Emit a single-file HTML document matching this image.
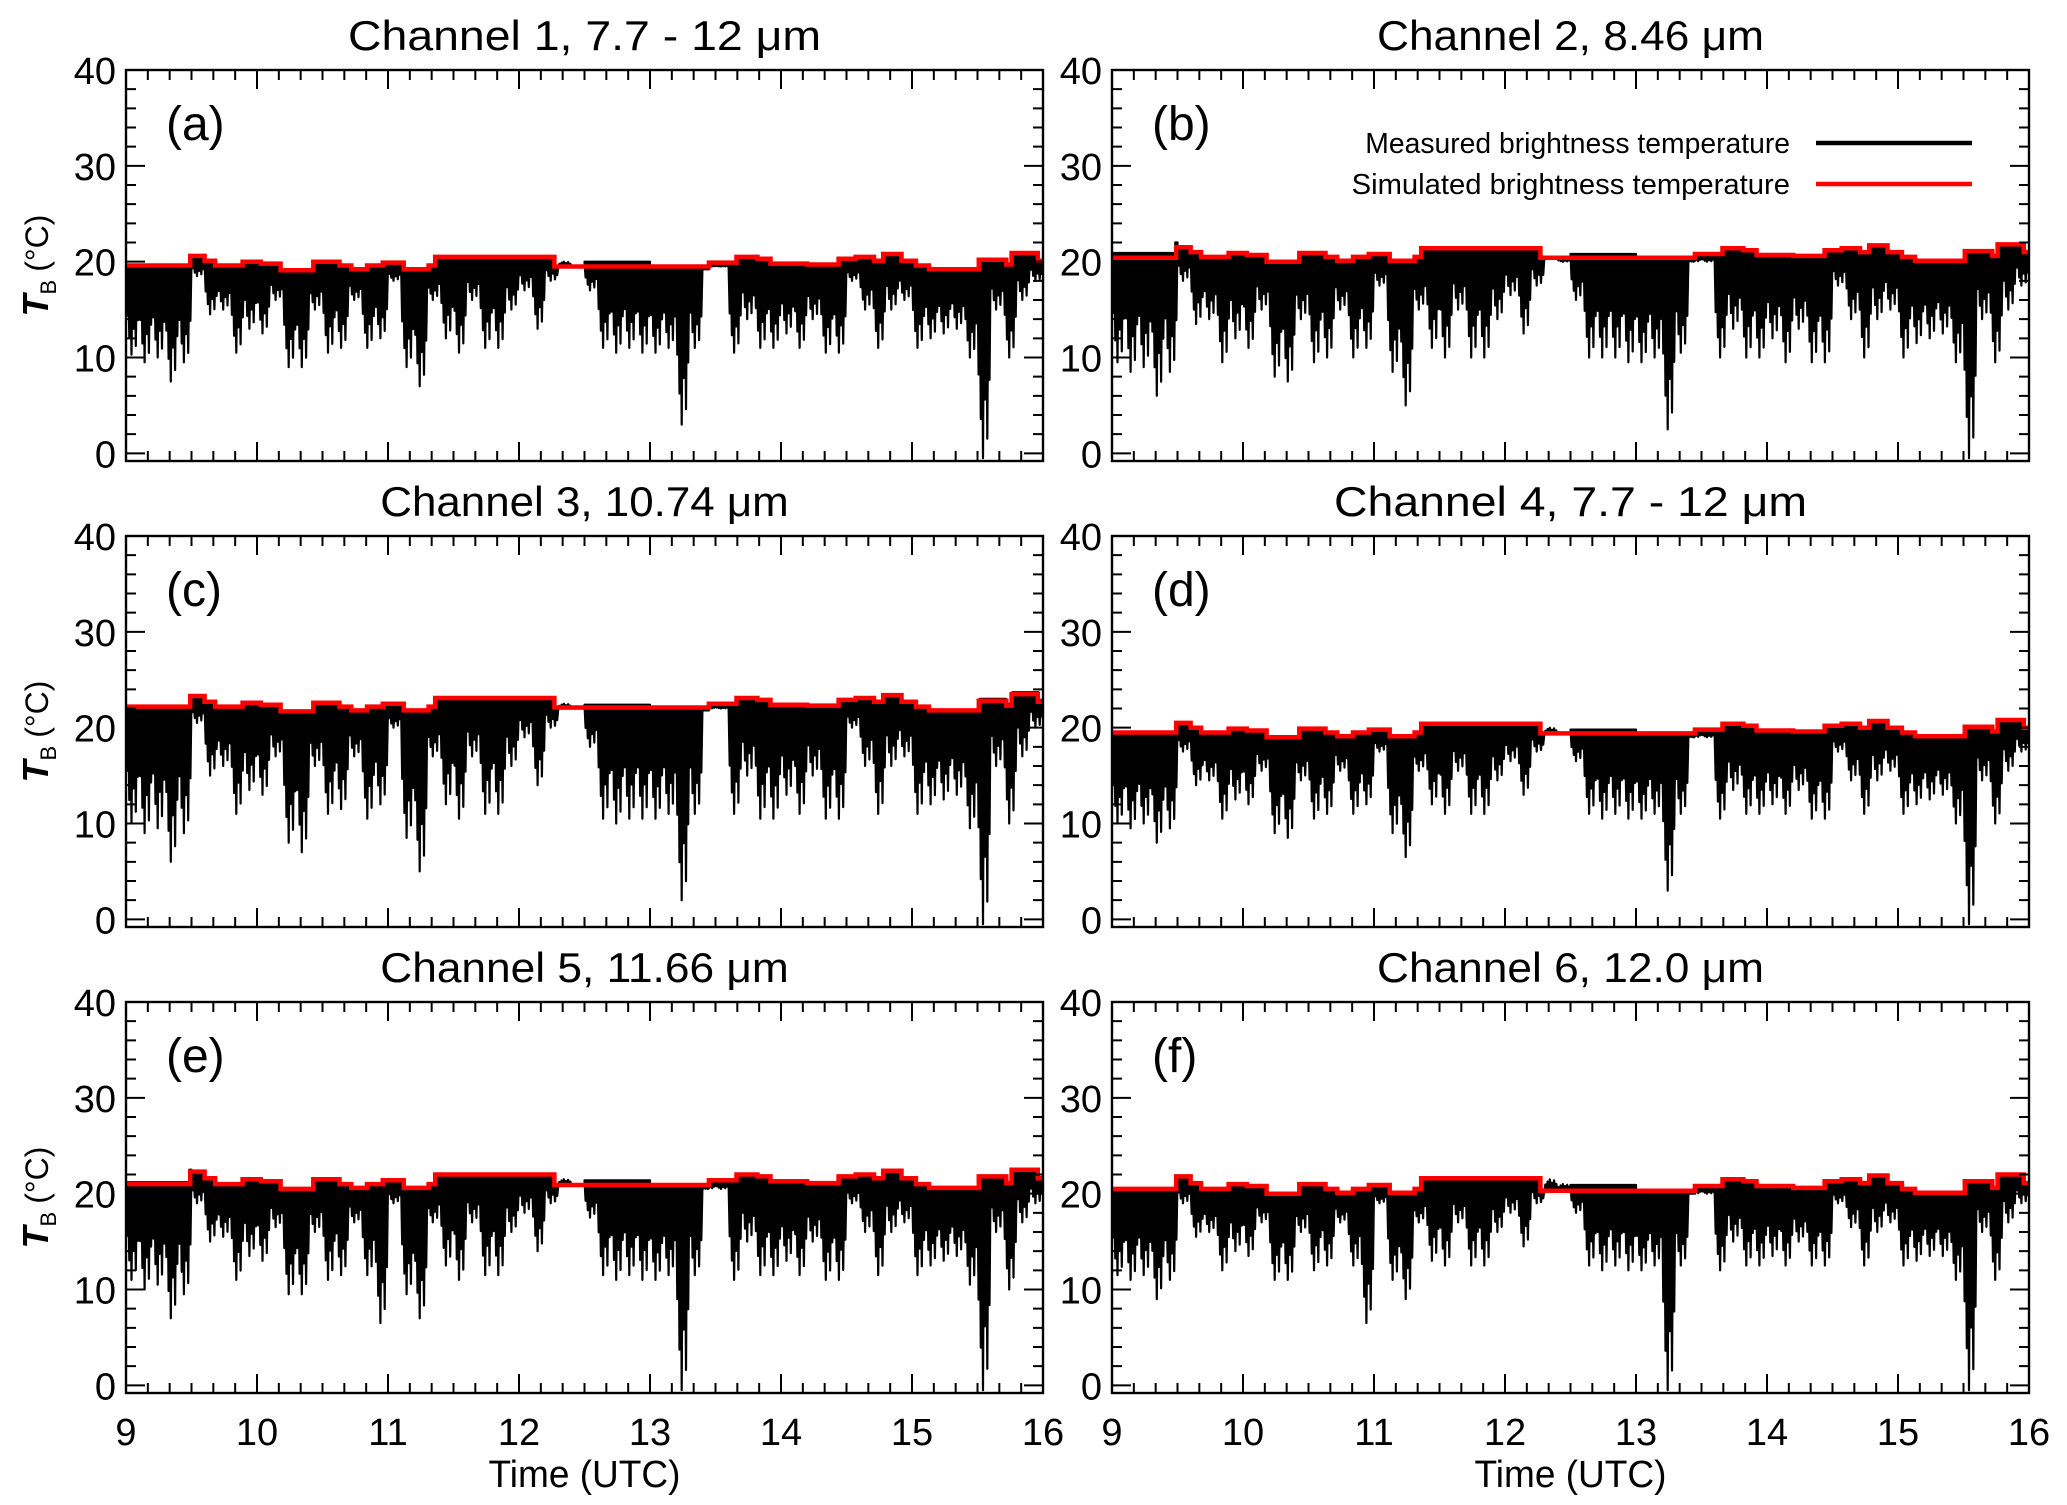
<!DOCTYPE html>
<html><head><meta charset="utf-8"><title>Brightness temperature channels</title>
<style>html,body{margin:0;padding:0;background:#fff}svg{display:block}text{font-family:"Liberation Sans",sans-serif;fill:#000}</style>
</head><body>
<svg id="chart" width="2067" height="1505" viewBox="0 0 2067 1505" xmlns="http://www.w3.org/2000/svg"></svg>
<script>
// ---- data ----
const xTicks = [9,10,11,12,13,14,15,16];
const yTicks = [0,10,20,30,40];
const panelTitles = ["Channel 1, 7.7 - 12 \u03bcm","Channel 2, 8.46 \u03bcm","Channel 3, 10.74 \u03bcm","Channel 4, 7.7 - 12 \u03bcm","Channel 5, 11.66 \u03bcm","Channel 6, 12.0 \u03bcm"];
const panelLetters = ["(a)","(b)","(c)","(d)","(e)","(f)"];
const simTimes = [9.0,9.49,9.60,9.68,9.89,10.03,10.18,10.43,10.63,10.72,10.84,10.96,11.12,11.31,11.36,12.27,13.45,13.66,13.82,13.92,14.20,14.44,14.57,14.71,14.78,14.92,15.03,15.13,15.51,15.72,15.76,15.96,16.0];
const simA = [19.6,20.6,20.1,19.6,20.0,19.8,19.1,20.0,19.6,19.2,19.6,19.9,19.2,19.6,20.5,19.5,19.9,20.5,20.3,19.8,19.7,20.3,20.5,20.1,20.8,20.1,19.6,19.2,20.2,19.7,20.9,20.1];
const simB = [20.4,21.5,21.0,20.5,20.9,20.7,20.0,20.9,20.5,20.1,20.5,20.8,20.1,20.5,21.4,20.4,20.8,21.4,21.2,20.7,20.6,21.2,21.4,21.0,21.7,21.0,20.5,20.1,21.1,20.6,21.8,21.0];
const simC = [22.2,23.3,22.7,22.2,22.6,22.4,21.7,22.6,22.2,21.8,22.2,22.5,21.8,22.2,23.1,22.1,22.5,23.1,22.9,22.4,22.3,22.9,23.1,22.7,23.4,22.7,22.2,21.8,22.8,22.3,23.5,22.7];
const simD = [19.5,20.5,20.0,19.5,19.9,19.7,19.0,19.9,19.5,19.1,19.5,19.8,19.1,19.5,20.4,19.4,19.8,20.4,20.2,19.7,19.6,20.2,20.4,20.0,20.7,20.0,19.5,19.1,20.1,19.6,20.8,20.0];
const simE = [21.0,22.3,21.6,21.0,21.5,21.3,20.5,21.5,21.0,20.6,21.0,21.4,20.6,21.0,22.0,20.9,21.4,22.0,21.8,21.3,21.1,21.8,22.0,21.6,22.4,21.6,21.0,20.6,21.8,21.1,22.5,21.6];
const simF = [20.5,21.8,21.1,20.5,21.0,20.8,20.0,21.0,20.5,20.1,20.5,20.9,20.1,20.5,21.6,20.3,20.8,21.5,21.3,20.8,20.6,21.3,21.5,21.1,21.9,21.1,20.5,20.1,21.3,20.6,22.0,21.1];
const binHours = 0.1;
const lowA = [10.3,9.5,10,7.5,9.5,18.5,14.5,15,10.5,13,12.5,16,9,9,15,10.5,11,16,11,12,18,9,7,16,12,10.5,16,11,11,15,17,13,18,20,19.5,17,11,10.5,11,10.5,10.5,11,3,11,19.5,19.5,10.5,14,11,11,12.5,11,14,10.5,10.5,18,15,11,15,16,11,12,12.5,13,10,-0.5,15,10,16,18];
const lowB = [9.5,8.5,9,6,8.5,18,13.5,14,9.5,12,11,15,8,7.5,14,9.5,10,15,10,11,17.5,8.5,5,15,11,10,15,10,10,14,16.5,12.5,17.5,20.5,20,16,10,10,10,9.5,9.5,10,2.5,10.5,20,20,10,13,10,10,12,9.5,13,9.5,9.5,17.5,14,10,14,15,10,11.5,12,12.5,9.5,-0.5,14,9.5,15,17.5];
const lowC = [10,9,9.5,6,9,20.5,15,16,11,13.5,13,17,8,7,16,11,11.5,17,10.5,12,20,8.5,5,17,12,10.5,17,11,11,16,19,14,20,22.5,22,18,10.5,10,10.5,10.5,10.5,11,2,11,22,22,11,15,10.5,10.5,13,11,15,10.5,10.5,20,16,11,16,17,11,12,12.5,13,9.5,-0.5,16,10,17,20];
const lowD = [10,9.5,10,8,9.5,17.5,14,14.5,10.5,12.5,12,15.5,9,8.5,14.5,10.5,11,15.5,11,12,17.5,9,6.5,15.5,12,11,15.5,11,11,14.5,16.5,13,17.5,20,19.5,16.5,11,10.5,11,10.5,10.5,11,3,11,19,19,10.5,13.5,11,11,12,11,13.5,10.5,10.5,17.5,14.5,11,14.5,15.5,11,12,12.5,13,10,-0.5,14.5,10,15.5,17.5];
const lowE = [11,10,10.5,7,9.5,19,15,15.5,11,13.5,13,16.5,9.5,9.5,16,11,11.5,17,11.5,6.5,19,9.5,7,17,12.5,11,17,11.5,11.5,16,18,14,19,21.5,21,17.5,11.5,11,11.5,11,11,11.5,-0.5,11.5,20.5,20.5,11,15,11.5,11.5,13,11.5,15,11,11,19,16,11.5,16,17,11.5,12.5,13,13.5,10.5,-0.5,16,10,17,19];
const lowF = [11.5,11,11.5,9,11,19,15.5,16,12,14,13.5,17,11,11,16,12,12.5,17,12.5,6.5,19,11,9,17,13,12.5,17,12.5,12.5,16,18,14.5,19,21.5,21,18,12.5,12,12.5,12,12,12.5,-0.5,12.5,20,20,12,15,12.5,12.5,13.5,12.5,15,12.5,12.5,19,16.5,12.5,16,17,12.5,13,13.5,13.5,11,-0.5,16,11,17,19];
const excessA = [0,0,0,0,0,0,0.3,0.8,0,0,0,0,0,0];
const excessB = [0.8,0.3,0,0,0,0,0.2,0.7,0,0,0,0,0,0.2];
const excessC = [0.3,0,0,0,0,0,0.2,0.6,0,0,0,0,0,0.5];
const excessD = [0,0,0,0,0,0,0.2,0.7,0,0,0,0,0,0];
const excessE = [0.5,0,0,0,0,0,0.3,0.8,0,0,0,0,0,0.2];
const excessF = [0,0,0,0,0,0,0.3,0.9,0,0,0,0,0,0.3];

const sims = [simA,simB,simC,simD,simE,simF];
const lows = [lowA,lowB,lowC,lowD,lowE,lowF];
const excesses = [excessA,excessB,excessC,excessD,excessE,excessF];

// ---- layout ----
const NS = "http://www.w3.org/2000/svg";
const svg = document.getElementById('chart');
const colX = [126, 1112];
const rowY = [70, 536, 1002];
const PW = 917, PH = 391;
const xMin = 9, xMax = 16, yMin = -0.8, yMax = 40;

function el(tag, attrs, parent) {
  const e = document.createElementNS(NS, tag);
  for (const k in attrs) e.setAttribute(k, attrs[k]);
  (parent || svg).appendChild(e);
  return e;
}
function simAt(sim, t) {
  for (let i = 0; i < sim.length; i++) if (t < simTimes[i + 1]) return sim[i];
  return sim[sim.length - 1];
}

for (let p = 0; p < 6; p++) {
  const col = p % 2, row = Math.floor(p / 2);
  const x0 = colX[col], y0 = rowY[row];
  const sx = v => x0 + (v - xMin) / (xMax - xMin) * PW;
  const sy = v => y0 + PH - (v - yMin) / (yMax - yMin) * PH;

  const g = el('g', {});
  
  

  const clipId = 'clip' + p;
  const cp = el('clipPath', {id: clipId}, g);
  el('rect', {x: x0, y: y0, width: PW, height: PH}, cp);

  const low = lows[p], sim = sims[p], exc = excesses[p];
  const weights = [0.55, 0.8, 1.0, 0.7, 0.9, 0.6];
  let d = '';
  for (let i = 0; i < low.length; i++) {
    const t0 = xMin + i * binHours;
    const w = sx(t0 + binHours) - sx(t0);
    const xa = sx(t0);
    const n = 6;
    for (let k = 0; k < n; k++) {
      const tk = t0 + (k + 0.5) * binHours / n;
      const tp = simAt(sim, tk) - 0.3 + exc[Math.min(exc.length - 1, Math.floor((tk - xMin) / 0.5))];
      const xs = xa + k * w / n;
      const wk = weights[k];
      const depth = low[i] * wk + tp * (1 - wk);
      d += 'M' + xs.toFixed(1) + ',' + sy(tp).toFixed(1) +
           'L' + (xs + w / n * 0.5).toFixed(1) + ',' + sy(depth).toFixed(1) +
           'L' + (xs + w / n).toFixed(1) + ',' + sy(tp).toFixed(1) + 'Z';
    }
  }
  const meas = el('path', {d: d, fill: '#000', stroke: '#000', 'stroke-width': 2.2, 'stroke-linejoin': 'round', 'clip-path': 'url(#' + clipId + ')'}, g);
  
  

  let sd = 'M' + sx(simTimes[0]).toFixed(1) + ',' + sy(sim[0]).toFixed(1);
  for (let i = 0; i < sim.length; i++) {
    sd += 'H' + sx(simTimes[i + 1]).toFixed(1);
    if (i + 1 < sim.length) sd += 'V' + sy(sim[i + 1]).toFixed(1);
  }
  const simPath = el('path', {d: sd, fill: 'none', stroke: '#ff0000', 'stroke-width': 4.5, 'clip-path': 'url(#' + clipId + ')'}, g);
  
  

  const frame = el('rect', {x: x0, y: y0, width: PW, height: PH, fill: 'none', stroke: '#000', 'stroke-width': 2.4}, g);
  
  

  let td = '';
  for (let m = 0; m <= 42; m++) {
    const t = xMin + m / 6;
    const major = m % 6 === 0;
    const L = major ? 19 : 10;
    const x = sx(t);
    td += 'M' + x + ',' + (y0 + PH) + 'v' + (-L) + 'M' + x + ',' + y0 + 'v' + L;
  }
  for (let v = 0; v <= 40; v += 2) {
    const major = v % 10 === 0;
    const L = major ? 19 : 10;
    const y = sy(v);
    td += 'M' + x0 + ',' + y + 'h' + L + 'M' + (x0 + PW) + ',' + y + 'h' + (-L);
  }
  const ticks = el('path', {d: td, stroke: '#000', 'stroke-width': 2, fill: 'none'}, g);
  
  

  for (const v of yTicks) {
    const t = el('text', {x: x0 - 10, y: sy(v) + 14, 'font-size': 38, 'text-anchor': 'end'}, g);
    
    
    t.textContent = v;
  }
  if (row === 2) {
    for (const v of xTicks) {
      const t = el('text', {x: sx(v), y: y0 + PH + 52, 'font-size': 38, 'text-anchor': 'middle'}, g);
      
      
      t.textContent = v;
    }
    const xt = el('text', {x: x0 + PW / 2, y: y0 + PH + 94, 'font-size': 38, 'text-anchor': 'middle', textLength: 192, lengthAdjust: 'spacingAndGlyphs'}, g);
    
    
    xt.textContent = 'Time (UTC)';
  }
  if (col === 0) {
    const cy = y0 + PH / 2;
    const yt = el('text', {transform: 'translate(48,' + cy + ') rotate(-90)', 'text-anchor': 'middle', 'font-size': 34}, g);
    
    
    const s1 = el('tspan', {'font-weight': 'bold', 'font-style': 'italic', 'font-size': 36}, yt); s1.textContent = 'T';
    const s2 = el('tspan', {'font-size': 22, dy: 8}, yt); s2.textContent = 'B';
    const s3 = el('tspan', {'font-size': 32, dy: -8, dx: 8}, yt); s3.textContent = '(\u00b0C)';
  }
  const title = el('text', {x: x0 + PW / 2, y: y0 - 20, 'font-size': 42, 'text-anchor': 'middle', textLength: panelTitles[p].length * 21.5, lengthAdjust: 'spacingAndGlyphs'}, g);
  
  
  title.textContent = panelTitles[p];
  const lt = el('text', {x: x0 + 40, y: y0 + 70, 'font-size': 48}, g);
  
  
  lt.textContent = panelLetters[p];

  if (p === 1) {
    const lg = el('g', {}, g);
    
    
    const entries = [['Measured brightness temperature', '#000', 143], ['Simulated brightness temperature', '#ff0000', 184]];
    for (const [label, color, y] of entries) {
      const e = el('g', {}, lg);
      
      
      const tx = el('text', {x: 1790, y: y + 10, 'font-size': 29, 'text-anchor': 'end', textLength: label.length * 13.7, lengthAdjust: 'spacingAndGlyphs'}, e);
      tx.textContent = label;
      el('line', {x1: 1816, x2: 1972, y1: y, y2: y, stroke: color, 'stroke-width': 4.5}, e);
    }
  }
}
</script>
</body></html>
